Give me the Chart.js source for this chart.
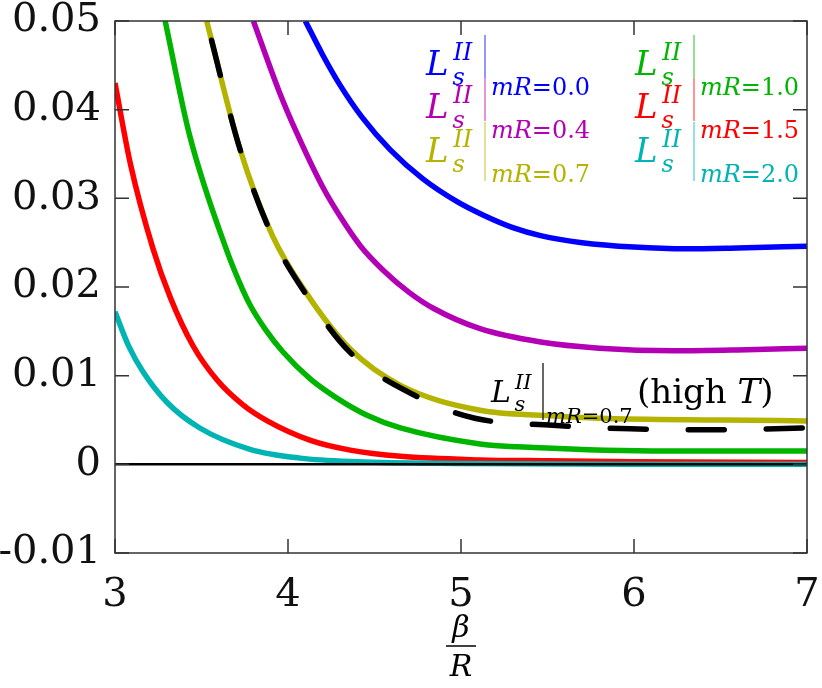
<!DOCTYPE html>
<html>
<head>
<meta charset="utf-8">
<script src="https://cdn.jsdelivr.net/npm/chart.js@4.4.1/dist/chart.umd.min.js"></script>
<style>
html,body{margin:0;padding:0;background:#fff;}
#wrap{width:822px;height:688px;position:relative;}
</style>
</head>
<body>
<div id="wrap"><canvas id="c"></canvas></div>
<script>
// ---- data ----
const xTicks = [3, 4, 5, 6, 7];
const xTickLabels = ['3', '4', '5', '6', '7'];
const yTicks = [-0.01, 0, 0.01, 0.02, 0.03, 0.04, 0.05];
const yTickLabels = ['-0.01', '0', '0.01', '0.02', '0.03', '0.04', '0.05'];

const seriesLabels = ['mR=0.0', 'mR=0.4', 'mR=0.7', 'mR=1.0', 'mR=1.5', 'mR=2.0'];
const highTLabel = 'mR=0.7';

const blueX = [4.10, 4.20, 4.30, 4.43, 4.59, 4.78, 4.98, 5.13, 5.30, 5.46, 5.70, 6.00, 6.30, 6.60, 7.00];
const blueY = [0.0500, 0.0462, 0.0428, 0.0391, 0.0355, 0.0322, 0.0296, 0.0281, 0.0267, 0.0258, 0.0250, 0.0245, 0.0243, 0.0244, 0.0246];

const purpleX = [3.80, 3.95, 4.05, 4.20, 4.30, 4.42, 4.55, 4.70, 4.84, 5.11, 5.46, 5.80, 6.23, 6.60, 7.00];
const purpleY = [0.0500, 0.0420, 0.0374, 0.0313, 0.0280, 0.0246, 0.0219, 0.0194, 0.0176, 0.0153, 0.0138, 0.0131, 0.0128, 0.0129, 0.0131];

const yellowX = [3.53, 3.72, 3.91, 4.11, 4.36, 4.65, 5.11, 5.50, 5.80, 6.50, 7.00];
const yellowY = [0.0500, 0.0357, 0.0258, 0.0192, 0.0130, 0.0089, 0.0061, 0.0055, 0.0052, 0.0050, 0.0049];

const highTX = [3.53, 3.72, 3.91, 4.11, 4.36, 4.75, 5.08, 5.53, 5.98, 6.44, 7.00];
const highTY = [0.0500, 0.0357, 0.0257, 0.0190, 0.0126, 0.0076, 0.0052, 0.0044, 0.0040, 0.0039, 0.0041];

const greenX = [3.29, 3.43, 3.65, 3.72, 3.78, 3.87, 3.97, 4.13, 4.28, 4.46, 4.65, 5.11, 5.42, 6.19, 7.00];
const greenY = [0.0500, 0.0372, 0.0239, 0.0205, 0.0180, 0.0152, 0.0127, 0.0096, 0.0075, 0.0055, 0.0041, 0.0023, 0.0019, 0.0015, 0.0015];

const redX = [3.00, 3.09, 3.22, 3.32, 3.45, 3.59, 3.74, 3.88, 4.13, 4.36, 4.65, 5.11, 5.50, 6.00, 7.00];
const redY = [0.0430, 0.0338, 0.0243, 0.0188, 0.0134, 0.0095, 0.0067, 0.0049, 0.0027, 0.0016, 0.0009, 0.0005, 0.0004, 0.0003, 0.0002];

const cyanX = [3.00, 3.08, 3.16, 3.30, 3.49, 3.78, 4.07, 4.40, 5.00, 6.00, 7.00];
const cyanY = [0.0172, 0.0133, 0.0105, 0.0070, 0.0041, 0.0017, 0.0007, 0.0003, 0.0001, 0.0000, 0.0000];

const zeroX = [3, 7];
const zeroY = [0, 0];

// ---- styling ----
const COLORS = ['#0000ff', '#b400b4', '#b4b400', '#00b400', '#ff0000', '#00b4b4'];
const SERIF = '"DejaVu Serif"';

function pts(xs, ys) { return xs.map((x, i) => ({ x: x, y: ys[i] })); }
function lineDs(xs, ys, color, extra) {
  return Object.assign({
    data: pts(xs, ys), borderColor: color, backgroundColor: color, borderWidth: 5.5,
    pointRadius: 0, fill: false, cubicInterpolationMode: 'monotone', borderCapStyle: 'butt',
    borderJoinStyle: 'round'
  }, extra || {});
}

const datasets = [
  lineDs(zeroX, zeroY, '#000000', { borderWidth: 2.5, order: 0, cubicInterpolationMode: 'default', tension: 0 }),
  lineDs(highTX, highTY, '#000000', { borderDash: [36, 42], borderDashOffset: 58, borderCapStyle: 'round', order: 1 }),
  lineDs(cyanX, cyanY, COLORS[5], { order: 2 }),
  lineDs(redX, redY, COLORS[4], { order: 3 }),
  lineDs(greenX, greenY, COLORS[3], { order: 4 }),
  lineDs(yellowX, yellowY, COLORS[2], { order: 5 }),
  lineDs(purpleX, purpleY, COLORS[1], { order: 6 }),
  lineDs(blueX, blueY, COLORS[0], { order: 7 })
];

// draw "mR=0.0"-style subscript: m, R italic, rest roman
function drawSub(ctx, text, x, yb, size) {
  let cx = x;
  const parts = [[text.slice(0, 2), 'italic'], [text.slice(2), 'normal']];
  for (const [t, st] of parts) {
    ctx.font = st + ' ' + size + 'px ' + SERIF;
    ctx.fillText(t, cx, yb);
    cx += ctx.measureText(t).width;
  }
  return cx;
}

function drawLs(ctx, x, yb, sz) {
  ctx.font = 'italic ' + sz + 'px ' + SERIF;
  ctx.fillText('L', x, yb);
  const s2 = Math.round(sz * 0.70);
  ctx.font = 'italic ' + s2 + 'px ' + SERIF;
  ctx.fillText('II', x + sz * 0.80, yb - sz * 0.45);
  ctx.fillText('s', x + sz * 0.78, yb + sz * 0.30);
}

const decor = {
  id: 'decor',
  afterDraw(chart) {
    const ctx = chart.ctx;
    const a = chart.chartArea;
    const xs = chart.scales.x, ys = chart.scales.y;
    ctx.save();
    // frame
    ctx.strokeStyle = '#333';
    ctx.lineWidth = 1.5;
    ctx.strokeRect(a.left, a.top, a.right - a.left, a.bottom - a.top);
    // inward ticks on all sides
    const TL = 14;
    ctx.beginPath();
    xTicks.forEach(v => {
      const px = xs.getPixelForValue(v);
      ctx.moveTo(px, a.bottom); ctx.lineTo(px, a.bottom - TL);
      ctx.moveTo(px, a.top); ctx.lineTo(px, a.top + TL);
    });
    yTicks.forEach(v => {
      const py = ys.getPixelForValue(v);
      ctx.moveTo(a.left, py); ctx.lineTo(a.left + TL, py);
      ctx.moveTo(a.right, py); ctx.lineTo(a.right - TL, py);
    });
    ctx.stroke();

    // legend (two columns of three)
    ctx.textBaseline = 'alphabetic';
    ctx.textAlign = 'left';
    const colX = [a.left + 311, a.left + 520];
    const rowY = [a.top + 54, a.top + 97, a.top + 141];
    for (let i = 0; i < 6; i++) {
      const c = Math.floor(i / 3), r = i % 3;
      const x0 = colX[c], yb = rowY[r];
      ctx.fillStyle = COLORS[i];
      drawLs(ctx, x0, yb, 34);
      // bar
      ctx.strokeStyle = COLORS[i];
      ctx.globalAlpha = 0.55;
      ctx.lineWidth = 1.5;
      ctx.beginPath();
      ctx.moveTo(x0 + 59, yb - 40);
      ctx.lineTo(x0 + 59, r === 2 ? yb + 19 : yb + 3);
      ctx.stroke();
      ctx.globalAlpha = 1;
      drawSub(ctx, seriesLabels[i], x0 + 65, yb + 20, 24);
    }

    // high-T annotation
    ctx.fillStyle = '#000';
    const hx = a.left + 376, hy = a.top + 381;
    drawLs(ctx, hx, hy, 30);
    ctx.strokeStyle = '#000';
    ctx.lineWidth = 1.2;
    ctx.beginPath();
    ctx.moveTo(hx + 52, hy - 39); ctx.lineTo(hx + 52, hy + 18); ctx.stroke();
    drawSub(ctx, highTLabel, hx + 55, hy + 21, 21);
    let tx = a.left + 522;
    ctx.font = '34px ' + SERIF;
    ctx.fillText('(high ', tx, hy + 1); tx += ctx.measureText('(high ').width;
    ctx.font = 'italic 34px ' + SERIF;
    ctx.fillText('T', tx, hy + 1); tx += ctx.measureText('T').width;
    ctx.font = '34px ' + SERIF;
    ctx.fillText(')', tx, hy + 1);

    // x-axis title: beta over R
    const cx = (a.left + a.right) / 2;
    ctx.textAlign = 'center';
    ctx.font = 'italic 30px ' + SERIF;
    ctx.fillText('\u03B2', cx, a.bottom + 84);
    ctx.lineWidth = 1.5;
    ctx.beginPath();
    ctx.moveTo(cx - 15, a.bottom + 93); ctx.lineTo(cx + 15, a.bottom + 93); ctx.stroke();
    ctx.fillText('R', cx, a.bottom + 123);
    ctx.restore();
  }
};

new Chart(document.getElementById('c'), {
  type: 'line',
  data: { datasets: datasets },
  options: {
    responsive: true,
    maintainAspectRatio: false,
    animation: false,
    layout: { padding: { top: 21, right: 15, bottom: 0, left: 0 } },
    plugins: { legend: { display: false }, tooltip: { enabled: false } },
    scales: {
      x: {
        type: 'linear', min: 3, max: 7,
        afterBuildTicks: s => { s.ticks = xTicks.map(v => ({ value: v })); },
        afterFit: s => { s.height = 135; s.paddingLeft = 0; s.paddingRight = 0; },
        grid: { display: false, drawTicks: false },
        border: { display: false },
        ticks: {
          color: '#111', padding: 19, maxRotation: 0,
          font: { family: 'DejaVu Serif', size: 40 },
          callback: (v, i) => xTickLabels[i]
        }
      },
      y: {
        type: 'linear', min: -0.01, max: 0.05,
        afterBuildTicks: s => { s.ticks = yTicks.map(v => ({ value: v })); },
        afterFit: s => { s.width = 115; s.paddingTop = 0; s.paddingBottom = 0; },
        grid: { display: false, drawTicks: false },
        border: { display: false },
        ticks: {
          color: '#111', padding: 14,
          font: { family: 'DejaVu Serif', size: 40 },
          callback: (v, i) => yTickLabels[i]
        }
      }
    }
  },
  plugins: [decor]
});
</script>
</body>
</html>
